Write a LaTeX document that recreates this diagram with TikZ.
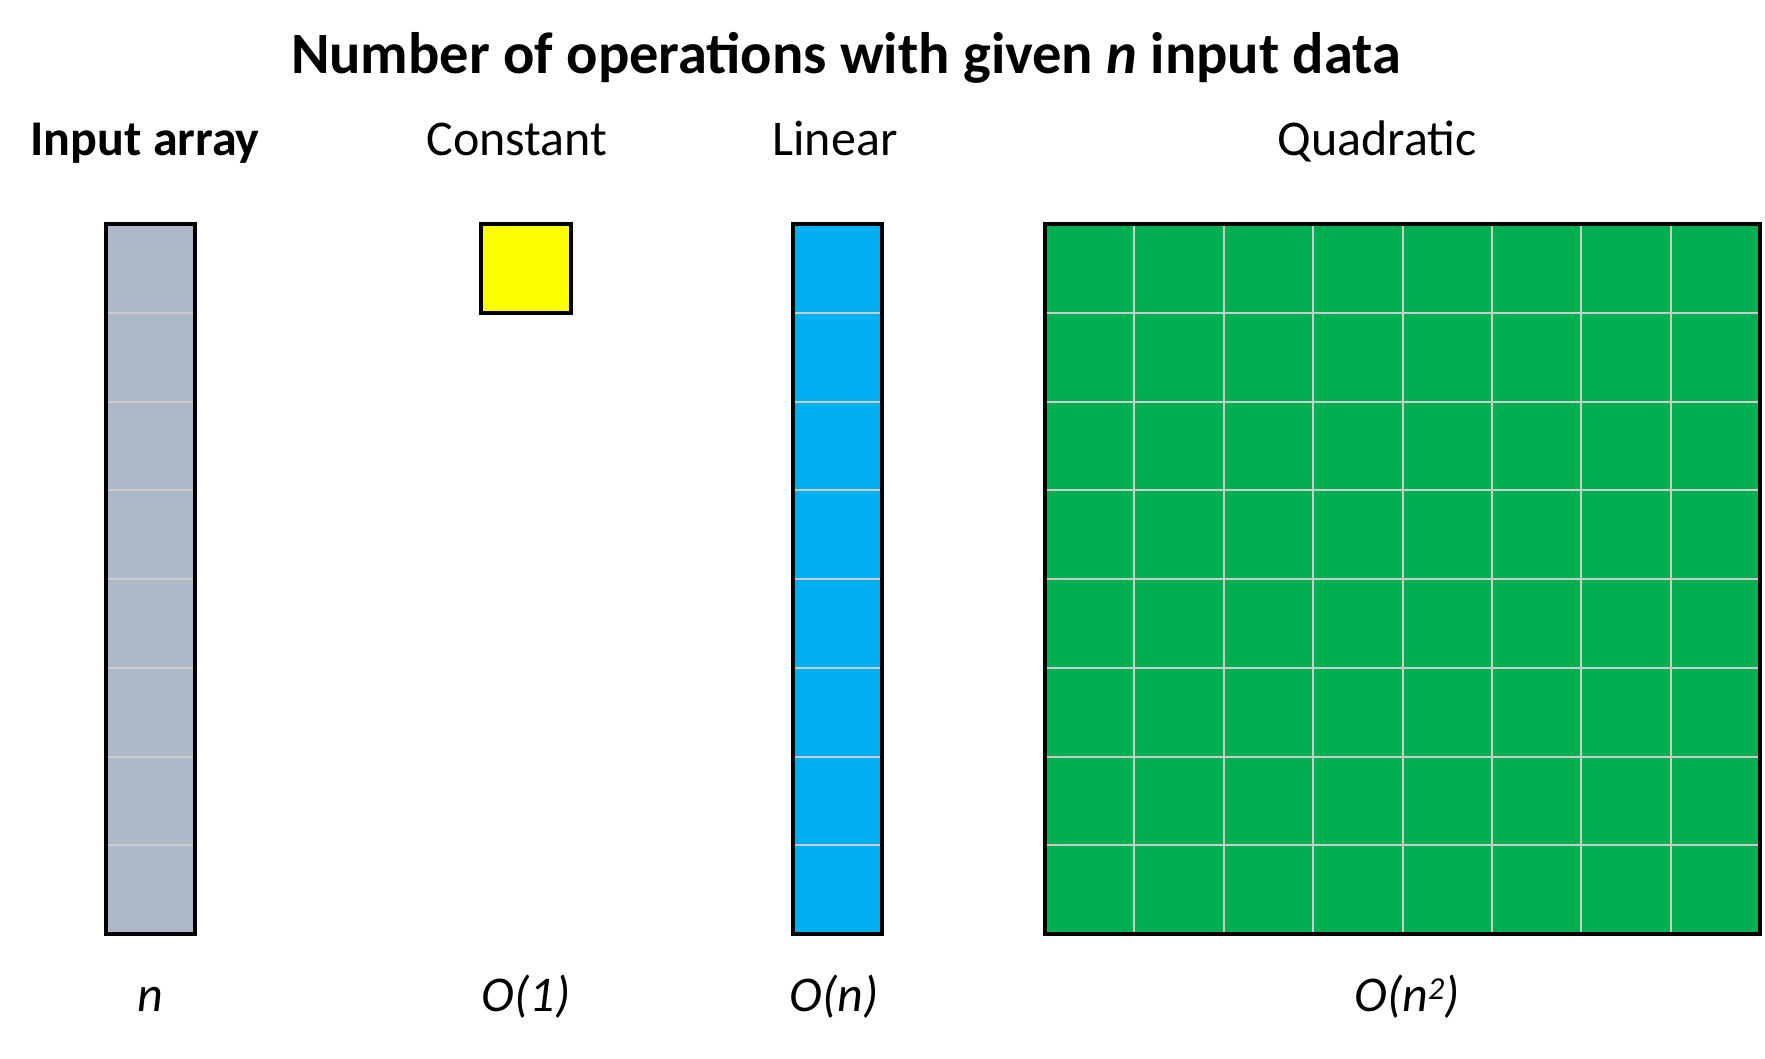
\documentclass[tikz,border=0pt]{standalone}
\usepackage{fontspec}
\setmainfont{Carlito}
\begin{document}
\begin{tikzpicture}[x=1pt,y=-1pt,
  cell/.style={draw=black,line width=4.5pt,inner sep=0pt,outer sep=0pt},
  hdr/.style={anchor=base,inner sep=0pt,font=\fontsize{50}{58}\selectfont},
  lbl/.style={anchor=base,inner sep=0pt,font=\fontsize{50}{58}\selectfont\itshape},
  gridln/.style={draw=gray!40,line width=2pt}]
\useasboundingbox[fill=white] (0,0) rectangle (1765,1058);
\node[anchor=base,inner sep=0pt,font=\fontsize{58.5}{66}\selectfont\bfseries] (title) at (846,73) {Number of operations with given \textit{n} input data};
\node[hdr,font=\fontsize{50}{58}\selectfont\bfseries] (hin) at (145,155) {Input array};
\node[hdr] (hconst) at (517,155) {Constant};
\node[hdr] (hlin) at (835,155) {Linear};
\node[hdr] (hquad) at (1377,155) {Quadratic};
% gray column
\fill[fill={rgb,255:red,173;green,185;blue,202}] (106,224) rectangle (195,934);
\foreach \i in {1,...,7} \draw[gridln] (106,224+\i*88.75) -- (195,224+\i*88.75);
\node[cell,minimum width=89pt,minimum height=710pt,anchor=north west] (gray) at (106,224) {};
% yellow
\node[cell,fill={rgb,255:red,255;green,255;blue,0},minimum width=90pt,minimum height=89pt,anchor=north west] (yellow) at (481,224) {};
% blue column
\fill[fill={rgb,255:red,0;green,176;blue,240}] (793,224) rectangle (882,934);
\foreach \i in {1,...,7} \draw[gridln] (793,224+\i*88.75) -- (882,224+\i*88.75);
\node[cell,minimum width=89pt,minimum height=710pt,anchor=north west] (blue) at (793,224) {};
% green square
\fill[fill={rgb,255:red,0;green,176;blue,80}] (1045,224) rectangle (1760,934);
\foreach \i in {1,...,7} {
  \draw[gridln] (1045,224+\i*88.75) -- (1760,224+\i*88.75);
  \draw[gridln] (1045+\i*89.4,224) -- (1045+\i*89.4,934);
}
\node[cell,minimum width=715pt,minimum height=710pt,anchor=north west] (green) at (1045,224) {};
% bottom labels
\node[lbl] (ln) at (150,1011) {n};
\node[lbl] (lo1) at (526,1011) {O(1)};
\node[lbl] (lon) at (834,1011) {O(n)};
\node[lbl] (lon2) at (1407,1011) {O(n\raisebox{0.5ex}{\fontsize{32}{36}\selectfont 2})};
\end{tikzpicture}
\end{document}
